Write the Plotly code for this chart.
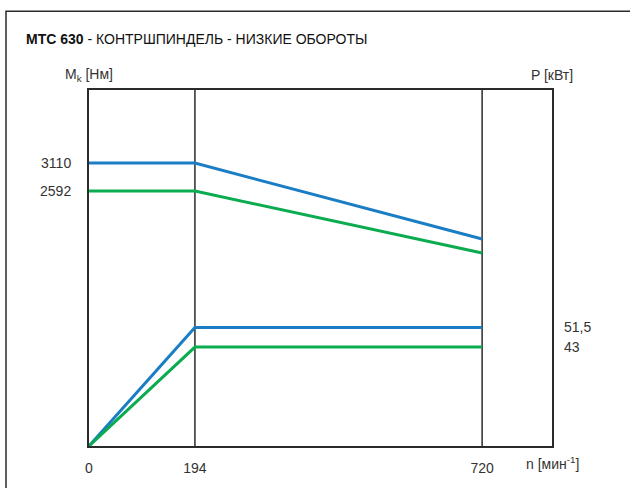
import plotly.graph_objects as go

# Spindle speed breakpoints, rpm
speed_rpm = [0, 194, 720]

# Torque curves, Nm
torque_s6 = [3110, 3110, 1700]
torque_s1 = [2592, 2592, 1440]

# Power curves, kW
power_s6 = [0, 51.5, 51.5]
power_s1 = [0, 43, 43]

torque_ticks = [2592, 3110]
power_ticks = [43, 51.5]

BLUE = "#1b7dc4"
GREEN = "#0bab4f"
INK = "#2b2b2b"
FONT = "Liberation Sans, Arial, sans-serif"

fig = go.Figure()

fig.add_trace(go.Scatter(x=speed_rpm, y=torque_s6, mode="lines",
                         line=dict(color=BLUE, width=3), yaxis="y"))
fig.add_trace(go.Scatter(x=speed_rpm, y=torque_s1, mode="lines",
                         line=dict(color=GREEN, width=3), yaxis="y"))
fig.add_trace(go.Scatter(x=speed_rpm, y=power_s6, mode="lines",
                         line=dict(color=BLUE, width=3), yaxis="y2", cliponaxis=False))
fig.add_trace(go.Scatter(x=speed_rpm, y=power_s1, mode="lines",
                         line=dict(color=GREEN, width=3), yaxis="y2", cliponaxis=False))

# vertical guides at the characteristic speeds
for n in speed_rpm[1:]:
    fig.add_shape(type="line", xref="x", yref="paper", x0=n, x1=n, y0=0, y1=1,
                  line=dict(color=INK, width=1.5), layer="below")

# outer frame (open to the right and bottom)
fig.add_shape(type="rect", xref="paper", yref="paper",
              x0=-83 / 463, x1=1.4, y0=-0.5, y1=1 + 80 / 362,
              line=dict(color=INK, width=1.5), layer="below")

fig.update_layout(
    width=630, height=488,
    margin=dict(l=89, r=78, t=90, b=36),
    paper_bgcolor="white", plot_bgcolor="white",
    showlegend=False,
    separators=", ",
    font=dict(family=FONT, size=14, color="#333333"),
    xaxis=dict(range=[0, 848], tickvals=speed_rpm, showgrid=False, zeroline=False,
               showline=True, mirror=True, linecolor=INK, linewidth=2,
               ticks="", ticklabelstandoff=8),
    yaxis=dict(range=[-2140, 4466], tickvals=torque_ticks, showgrid=False, zeroline=False,
               showline=True, mirror=True, linecolor=INK, linewidth=2,
               ticks="", ticklabelstandoff=13),
    yaxis2=dict(range=[0, 154.7], tickvals=power_ticks, overlaying="y", side="right",
                showgrid=False, zeroline=False, showline=False,
                ticks="", ticklabelstandoff=11),
    annotations=[
        dict(text="<b>MTC 630</b> - КОНТРШПИНДЕЛЬ - НИЗКИЕ ОБОРОТЫ",
             xref="paper", yref="paper", x=-65 / 463, y=1 + 52 / 362,
             xanchor="left", yanchor="middle", showarrow=False,
             font=dict(size=14, color="#111111")),
        dict(text="M<sub>k</sub> [Нм]", xref="paper", yref="paper", x=0, y=1 + 15 / 362,
             xanchor="center", yanchor="middle", showarrow=False),
        dict(text="P [кВт]", xref="paper", yref="paper", x=1, y=1 + 15 / 362,
             xanchor="center", yanchor="middle", showarrow=False),
        dict(text="n [мин<sup>-1</sup>]", xref="paper", yref="paper", x=1, y=-17 / 362,
             xanchor="center", yanchor="middle", showarrow=False),
    ],
)

fig.write_html("out.html")
